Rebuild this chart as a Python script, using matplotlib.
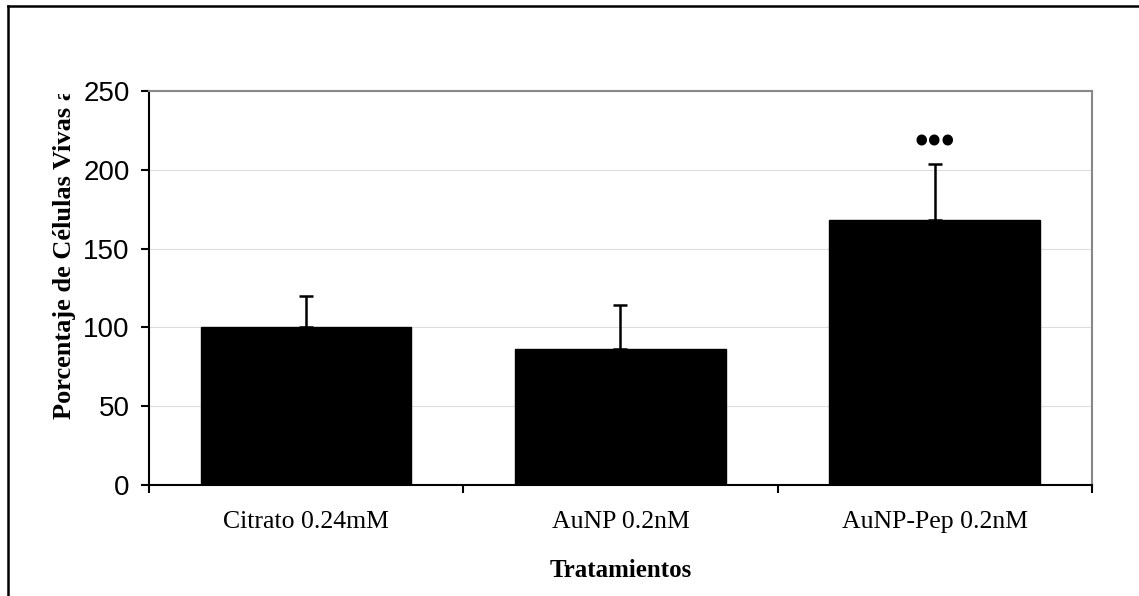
import numpy as np
import matplotlib
matplotlib.use("Agg")
import matplotlib.pyplot as plt
from matplotlib.lines import Line2D
from matplotlib.patches import Rectangle

# data
categories = ["Citrato 0.24mM", "AuNP 0.2nM", "AuNP-Pep 0.2nM"]
means = [100, 86, 168]
errors = [20, 28, 36]
signif = ["", "", "•••"]
yticks = [0, 50, 100, 150, 200, 250]

fig = plt.figure(figsize=(11.39, 5.96), dpi=100)
ax = fig.add_axes([0.1308, 0.1862, 0.9587 - 0.1308, 0.8473 - 0.1862])

x = np.arange(len(categories))
ax.bar(x, means, width=0.67, color="black", edgecolor="black", zorder=2)
ax.errorbar(x, means, yerr=[np.zeros(len(errors)), errors], fmt="none",
            ecolor="black", elinewidth=1.8, capsize=5, capthick=1.8, zorder=3)

for xi, m, e, s in zip(x, means, errors, signif):
    if s:
        ax.text(xi, m + e + 12, s, ha="center", va="center",
                fontsize=28, family="Liberation Serif", fontweight="bold")

ax.set_xlim(-0.5, len(categories) - 0.5)
ax.set_ylim(0, 250)
ax.set_yticks(yticks)
ax.set_yticklabels([str(v) for v in yticks], family="Liberation Sans", fontsize=20)
ax.yaxis.grid(True, color="#dddddd", linewidth=0.8, zorder=0)
ax.set_axisbelow(True)

ax.set_xticks(x)
ax.set_xticklabels(categories, family="Liberation Serif", fontsize=18.5)
ax.set_xticks(np.arange(-0.5, len(categories)), minor=True)
ax.tick_params(axis="x", which="major", length=0, pad=18.5)
ax.tick_params(axis="x", which="minor", length=6, width=1.5, direction="out")
ax.tick_params(axis="y", length=6, width=1.5, direction="out", pad=8)

for side in ["left", "bottom"]:
    ax.spines[side].set_color("black")
    ax.spines[side].set_linewidth(1.5)
for side in ["top", "right"]:
    ax.spines[side].set_color("#888888")
    ax.spines[side].set_linewidth(1.5)

ax.set_xlabel("Tratamientos", family="Liberation Serif", fontweight="bold",
              fontsize=18, labelpad=19)

# y label, its end is cut off at the top as in the original
yl = fig.text(0.057, 0.297, "Porcentaje de Células Vivas al",
              rotation=90, ha="center", va="bottom",
              family="Liberation Serif", fontweight="bold", fontsize=19)
yl.set_clip_path(Rectangle((0, 0), 1, 0.842, transform=fig.transFigure))
yl.set_clip_on(True)

# outer chart frame (only left and top visible)
fig.add_artist(Line2D([0.007, 0.007], [0, 0.99], color="black", lw=1.8,
                      transform=fig.transFigure))
fig.add_artist(Line2D([0.007, 1.0], [0.99, 0.99], color="black", lw=1.8,
                      transform=fig.transFigure))

fig.savefig("out.png", dpi=100)
